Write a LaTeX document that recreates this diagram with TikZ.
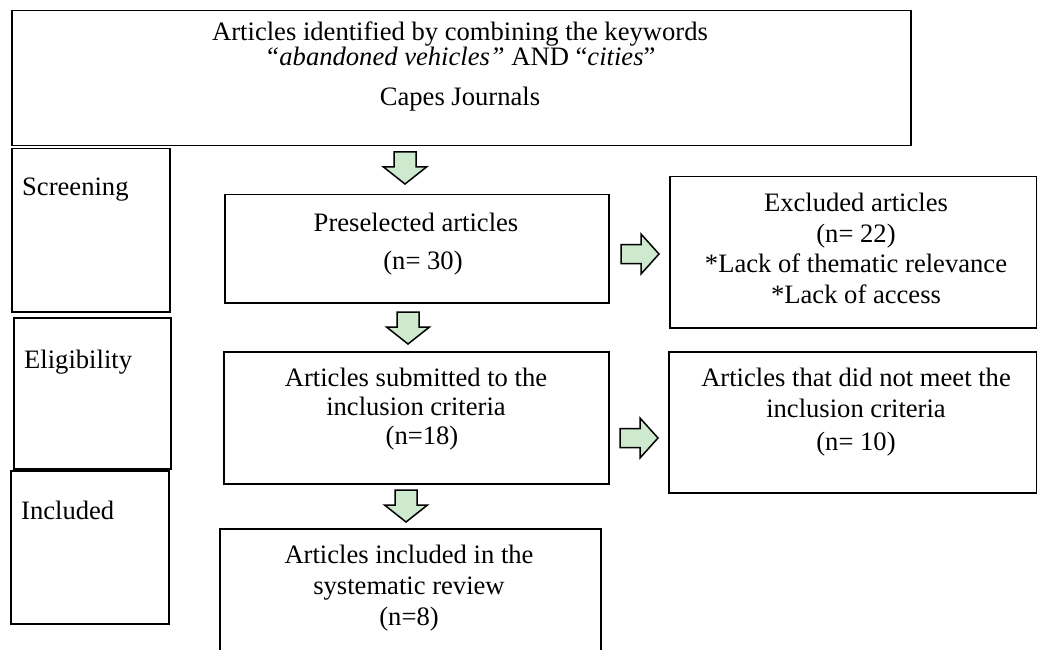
\documentclass[tikz,border=0pt]{standalone}
\usepackage{fontspec}
\setmainfont{Liberation Serif}
\definecolor{arrgreen}{RGB}{205,233,206}

\begin{document}
\begin{tikzpicture}[x=1pt,y=-1pt,line join=miter,
  box/.style={draw,line width=1.5pt,inner sep=0pt,anchor=north west},
  txt/.style={align=center,inner sep=0pt,anchor=north,font=\fontsize{26.6pt}{31pt}\selectfont},
  lbl/.style={inner sep=0pt,anchor=north west,font=\fontsize{26.6pt}{31pt}\selectfont},
  downarr/.pic={\draw[line width=1.5pt,fill=arrgreen] (-11,0) -- (-11,15) -- (-21.5,15) -- (0,32) -- (21.5,15) -- (11,15) -- (11,0) -- cycle;},
  rightarr/.pic={\draw[line width=1.5pt,fill=arrgreen] (0,-9.5) -- (20,-9.5) -- (20,-20) -- (38,0) -- (20,20) -- (20,9.5) -- (0,9.5) -- cycle;}]
\useasboundingbox (0,0) rectangle (1037,650);
\clip (0,0) rectangle (1037,650);
% boxes
\node[box,minimum width=899pt,minimum height=135pt] (top) at (11,10) {};
\node[box,minimum width=158pt,minimum height=163pt] (scr) at (11,148) {};
\node[box,minimum width=157pt,minimum height=151pt] (eli) at (13,317) {};
\node[box,minimum width=158pt,minimum height=153pt] (inc) at (10,470) {};
\node[box,minimum width=384pt,minimum height=108pt] (pre) at (224,194) {};
\node[box,minimum width=385pt,minimum height=132pt] (sub) at (223,351) {};
\node[box,minimum width=381pt,minimum height=137pt] (fin) at (219,528) {};
\node[box,minimum width=367pt,minimum height=151pt] (exc) at (669,176) {};
\node[box,minimum width=368pt,minimum height=141pt] (notmet) at (668,351) {};
% texts
\node[txt] (topT) at (460,22) {Articles identified by combining the keywords\\[-6pt]
  \textit{“abandoned vehicles”} AND “\textit{cities}”\\[9pt] Capes Journals};
\node[lbl] (scrT) at (22,178) {Screening};
\node[lbl] (eliT) at (24,350) {Eligibility};
\node[lbl] (incT) at (21,501) {Included};
\node[txt] (preT) at (416,213) {Preselected articles\\[7pt]\hspace*{14pt}(n= 30)};
\node[txt] (subT) at (416,368) {Articles submitted to the\\[-2pt] inclusion criteria\\[-2pt]\hspace*{12pt}(n=18)};
\node[txt] (finT) at (409,545) {Articles included in the\\ systematic review\\ (n=8)};
\node[txt] (excT) at (856,193) {Excluded articles\\ (n= 22)\\[-1pt] *Lack of thematic relevance\\ *Lack of access};
\node[txt] (notmetT) at (856,368) {Articles that did not meet the\\ inclusion criteria\\[2pt] (n= 10)};
% arrows
\pic (d1) at (405,152) {downarr};
\pic (d2) at (408,312) {downarr};
\pic (d3) at (406,490) {downarr};
\pic (r1) at (621,254) {rightarr};
\pic (r2) at (620,438) {rightarr};
\end{tikzpicture}
\end{document}
